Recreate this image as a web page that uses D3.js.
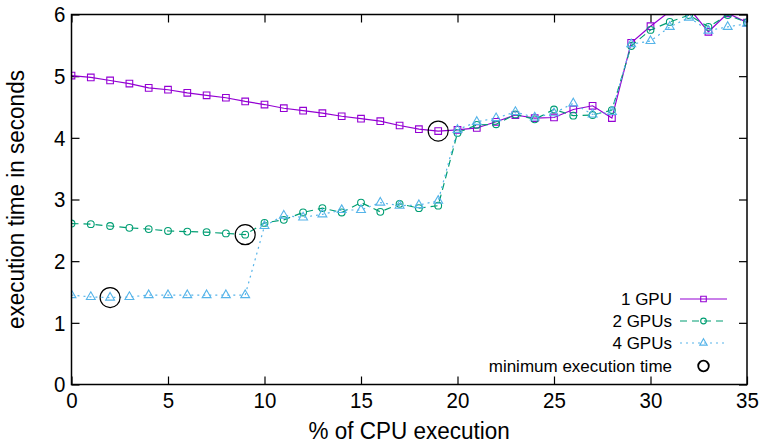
<!DOCTYPE html>
<html>
<head>
<meta charset="utf-8">
<script src="https://cdn.jsdelivr.net/npm/d3@7"></script>
<style>
  body { margin: 0; background: white; }
  text { font-family: "Liberation Sans", Arial, sans-serif; fill: #000; }
</style>
</head>
<body>
<svg id="chart" width="760" height="447"></svg>
<script>
// % of CPU execution
const cpuShare = d3.range(0, 36);

const gpu1 = [5.01, 4.98, 4.93, 4.88, 4.81, 4.78, 4.73, 4.69, 4.65, 4.59,
  4.54, 4.48, 4.44, 4.40, 4.35, 4.31, 4.27, 4.20, 4.14, 4.11,
  4.13, 4.16, 4.26, 4.37, 4.32, 4.33, 4.46, 4.52, 4.32, 5.54,
  5.81, 6.05, 6.10, 5.72, 6.02, 5.87];

const gpu2 = [2.61, 2.60, 2.57, 2.54, 2.52, 2.49, 2.48, 2.47, 2.45, 2.43,
  2.62, 2.67, 2.79, 2.86, 2.79, 2.95, 2.80, 2.93, 2.86, 2.90,
  4.08, 4.21, 4.22, 4.38, 4.30, 4.46, 4.36, 4.37, 4.45, 5.49,
  5.75, 5.88, 5.99, 5.80, 5.99, 5.87];

const gpu4 = [1.45, 1.42, 1.41, 1.42, 1.45, 1.45, 1.45, 1.45, 1.45, 1.45,
  2.57, 2.74, 2.71, 2.76, 2.83, 2.83, 2.95, 2.90, 2.91, 2.98,
  4.13, 4.26, 4.32, 4.42, 4.33, 4.40, 4.56, 4.38, 4.42, 5.52,
  5.57, 5.80, 5.95, 5.74, 5.80, 5.85];

// minimum execution time for each configuration
const minX = [2, 9, 19];
const minY = [1.41, 2.43, 4.11];

const xTicks = [0, 5, 10, 15, 20, 25, 30, 35];
const yTicks = [0, 1, 2, 3, 4, 5, 6];

const seriesNames = ['1 GPU', '2 GPUs', '4 GPUs'];
const seriesValues = [gpu1, gpu2, gpu4];

const COLORS = ['#9400d3', '#009e73', '#56b4e9'];
const DASHES = [null, '7,5', '2,4'];
const SYMBOLS = [d3.symbolSquare, d3.symbolCircle, d3.symbolTriangle];
const SYMBOL_SIZES = [44, 36, 34];

const FONT = '"Liberation Sans", Arial, sans-serif';
const TEXT_STRETCH = 1.1;   // glyphs in the original are a bit taller than wide

const margin = { left: 71.5, right: 13, top: 14.5, bottom: 62.5 };
const width = 760, height = 447;

const svg = d3.select('#chart');

const x = d3.scaleLinear().domain([0, 35]).range([margin.left, width - margin.right]);
const y = d3.scaleLinear().domain([0, 6]).range([height - margin.bottom, margin.top]);

svg.append('defs').append('clipPath').attr('id', 'plotClip')
  .append('rect')
  .attr('x', x(0)).attr('y', y(6))
  .attr('width', x(35) - x(0)).attr('height', y(0) - y(6));

function stretchText (sel) {
  sel.each(function () {
    var t = d3.select(this);
    var tx = +t.attr('x') || 0, ty = +t.attr('y') || 0;
    t.attr('transform', `translate(${tx},${ty}) scale(1,${TEXT_STRETCH}) translate(${-tx},${-ty})`);
  });
}

// axes with inward ticks, mirrored on top and right
const tickLen = 8;
svg.append('g')
  .attr('transform', `translate(0,${y(0)})`)
  .call(d3.axisBottom(x).tickValues(xTicks).tickSizeInner(-tickLen).tickSizeOuter(0).tickPadding(7))
  .call(g => g.select('.domain').remove())
  .call(g => g.selectAll('text').attr('font-size', 20.5).attr('font-family', FONT).call(stretchText));

svg.append('g')
  .attr('transform', `translate(0,${y(6)})`)
  .call(d3.axisTop(x).tickValues(xTicks).tickSizeInner(-tickLen).tickSizeOuter(0).tickFormat(''))
  .call(g => g.select('.domain').remove());

svg.append('g')
  .attr('transform', `translate(${x(0)},0)`)
  .call(d3.axisLeft(y).tickValues(yTicks).tickFormat(d3.format('d')).tickSizeInner(-tickLen).tickSizeOuter(0).tickPadding(6))
  .call(g => g.select('.domain').remove())
  .call(g => g.selectAll('text').attr('font-size', 20.5).attr('font-family', FONT).call(stretchText));

svg.append('g')
  .attr('transform', `translate(${x(35)},0)`)
  .call(d3.axisRight(y).tickValues(yTicks).tickSizeInner(-tickLen).tickSizeOuter(0).tickFormat(''))
  .call(g => g.select('.domain').remove());

svg.selectAll('.tick line').attr('stroke', '#000').attr('stroke-width', 1.2);

// series
const plot = svg.append('g').attr('clip-path', 'url(#plotClip)');

seriesValues.forEach((vals, i) => {
  const pts = cpuShare.map((c, j) => [c, vals[j]]);
  plot.append('path')
    .datum(pts)
    .attr('fill', 'none')
    .attr('stroke', COLORS[i])
    .attr('stroke-width', 1.2)
    .attr('stroke-dasharray', DASHES[i])
    .attr('d', d3.line().x(d => x(d[0])).y(d => y(d[1])));

  plot.selectAll('.pt' + i)
    .data(pts)
    .enter()
    .append('path')
    .attr('class', 'pt' + i)
    .attr('transform', d => `translate(${x(d[0])},${y(d[1])})`)
    .attr('d', d3.symbol().type(SYMBOLS[i]).size(SYMBOL_SIZES[i]))
    .attr('fill', 'none')
    .attr('stroke', COLORS[i])
    .attr('stroke-width', 1.1);
});

// minimum markers
plot.selectAll('.minCircle')
  .data(minX.map((v, i) => [v, minY[i]]))
  .enter()
  .append('circle')
  .attr('class', 'minCircle')
  .attr('cx', d => x(d[0]))
  .attr('cy', d => y(d[1]))
  .attr('r', 10)
  .attr('fill', 'none')
  .attr('stroke', '#000')
  .attr('stroke-width', 1.2);

// frame
svg.append('rect')
  .attr('x', x(0)).attr('y', y(6))
  .attr('width', x(35) - x(0)).attr('height', y(0) - y(6))
  .attr('fill', 'none')
  .attr('stroke', '#000')
  .attr('stroke-width', 1.5);

// legend
const legend = svg.append('g');
const legendRows = [299, 321, 343, 366];
const textRight = 672, sampleL = 680, sampleR = 727;

seriesNames.forEach((name, i) => {
  const ly = legendRows[i];
  legend.append('text')
    .attr('x', textRight).attr('y', ly)
    .attr('dy', '0.35em')
    .attr('text-anchor', 'end')
    .attr('font-size', 17)
    .text(name);
  legend.append('line')
    .attr('x1', sampleL).attr('x2', sampleR)
    .attr('y1', ly).attr('y2', ly)
    .attr('stroke', COLORS[i])
    .attr('stroke-width', 1.2)
    .attr('stroke-dasharray', DASHES[i]);
  legend.append('path')
    .attr('transform', `translate(${(sampleL + sampleR) / 2},${ly})`)
    .attr('d', d3.symbol().type(SYMBOLS[i]).size(SYMBOL_SIZES[i] * 0.7))
    .attr('fill', 'none')
    .attr('stroke', COLORS[i])
    .attr('stroke-width', 1.1);
});

legend.append('text')
  .attr('x', textRight).attr('y', legendRows[3])
  .attr('dy', '0.35em')
  .attr('text-anchor', 'end')
  .attr('font-size', 17)
  .text('minimum execution time');
legend.append('circle')
  .attr('cx', (sampleL + sampleR) / 2).attr('cy', legendRows[3])
  .attr('r', 5.3)
  .attr('fill', 'none')
  .attr('stroke', '#000')
  .attr('stroke-width', 1.8);

// axis titles
svg.append('text')
  .attr('x', (x(0) + x(35)) / 2).attr('y', 439)
  .attr('text-anchor', 'middle')
  .attr('font-size', 22.5)
  .text('% of CPU execution')
  .call(stretchText);

svg.append('text')
  .attr('transform', `translate(24,${(y(0) + y(6)) / 2}) rotate(-90) scale(1,${TEXT_STRETCH})`)
  .attr('text-anchor', 'middle')
  .attr('font-size', 22.5)
  .text('execution time in seconds');
</script>
</body>
</html>
